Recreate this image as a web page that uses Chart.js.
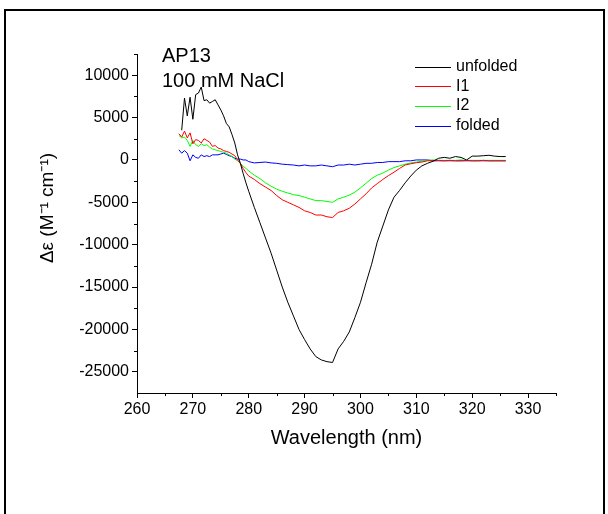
<!DOCTYPE html>
<html>
<head>
<meta charset="utf-8">
<script src="https://cdn.jsdelivr.net/npm/chart.js@4/dist/chart.umd.min.js"></script>
<style>
  html, body { margin: 0; padding: 0; background: #fff; }
  #cdChart { display: block; }
</style>
</head>
<body>
<canvas id="cdChart" width="608" height="514"></canvas>
<script>
// wavelength grid (nm), finer at the noisy start
const wavelength = [267.5, 268, 268.5, 269, 269.5, 270, 270.5, 271, 271.5, 272, 272.5, 273, 273.5, 274, 274.5,
  275, 275.5, 276, 276.5, 277, 277.5, 278, 278.5, 279, 279.5, 280,
  281, 282, 283, 284, 285, 286, 287, 288, 289, 290, 291, 292, 293, 294, 295, 296, 297, 298, 299, 300,
  301, 302, 303, 304, 305, 306, 307, 308, 309, 310, 311, 312, 313, 314, 315, 316, 317, 318, 319, 320,
  321, 322, 323, 324, 325, 326];

const unfolded = [null, 3500, 7300, 5200, 7400, 4800, 7700, 7900, 8600, 7000, 7100, 6700, 6900, 7100, 6500,
  5900, 5200, 4300, 3900, 3000, 2000, 600, -400, -1600, -2700, -3700,
  -5600, -7400, -9200, -11000, -13000, -15000, -16800, -18400, -20000, -21200, -22300, -23200, -23600, -23800, -23900, -22300, -21400, -20300, -18600, -16800,
  -14500, -12300, -9700, -7800, -5900, -4400, -3600, -2700, -1900, -1200, -700, -400, -150, 200, 300, 200, 400, 300, 0, 450,
  450, 500, 550, 450, 400, 400];

const i1 = [3100, 2700, 3400, 2600, 3200, 1900, 2400, 2300, 2000, 2500, 2300, 2100, 1600, 1700, 1400,
  1300, 1100, 1000, 900, 700, 500, 0, -400, -1000, -1500, -1900,
  -2300, -2800, -3200, -3600, -4200, -4700, -5000, -5300, -5600, -6000, -6200, -6500, -6500, -6700, -6800, -6200, -6000, -5700, -5200, -4600,
  -4000, -3300, -2800, -2300, -1850, -1450, -1000, -600, -450, -330, -250, -100, -100, -50, -100, -50, -100, -100, -50, -100,
  -100, -50, -100, -100, -100, -100];

const i2 = [2900, 2600, 2700, 2300, 1600, 2300, 1800, 1600, 1900, 1700, 1800, 1500, 1300, 1200, 1100,
  1000, 900, 800, 600, 400, 100, -100, -400, -750, -1000, -1300,
  -1800, -2200, -2700, -3100, -3450, -3700, -3900, -4100, -4200, -4400, -4600, -4800, -4800, -4900, -5000, -4600, -4400, -4150, -3800, -3300,
  -2750, -2200, -1800, -1550, -1200, -900, -700, -500, -350, -250, -150, -50, 0, -50, -50, -50, -50, 0, -50, -50,
  -50, -50, -50, -50, -50, -50];

const folded = [1200, 800, 1100, 800, -100, 600, 300, 200, 600, 400, 500, 400, 600, 600, 600,
  700, 800, 650, 500, 400, 200, 100, 100, 0, 0, -200,
  -350, -300, -250, -350, -400, -500, -550, -600, -700, -600, -700, -700, -600, -700, -800, -600, -600, -500, -600, -500,
  -400, -400, -300, -300, -200, -200, -200, -100, -100, 0, 0, 0, -100, -100, -100, -100, -100, -100, -100, -100,
  -100, -100, -100, -100, -100, -100];

const seriesNames = ['unfolded', 'I1', 'I2', 'folded'];
const seriesColors = ['#000000', '#ff0000', '#00ff00', '#0000ff'];

const xTicks = [260, 270, 280, 290, 300, 310, 320, 330];
const xMinor = [265, 275, 285, 295, 305, 315, 325, 335];
const yTicks = [-25000, -20000, -15000, -10000, -5000, 0, 5000, 10000];
const yMinor = [-22500, -17500, -12500, -7500, -2500, 2500, 7500, 12500];

const fontFamily = '"Liberation Sans", Arial, Helvetica, sans-serif';

function toPoints(values) {
  return wavelength.map((w, i) => ({ x: w, y: values[i] }));
}

// minor ticks, axis titles, legend, labels and page frame
const decorations = {
  id: 'decorations',
  beforeDraw(chart) {
    const ctx = chart.ctx;
    ctx.save();
    ctx.fillStyle = '#fff';
    ctx.fillRect(0, 0, chart.width, chart.height);
    ctx.strokeStyle = '#000';
    ctx.lineWidth = 2;
    ctx.beginPath();
    ctx.moveTo(5, 514);
    ctx.lineTo(5, 10);
    ctx.lineTo(604, 10);
    ctx.lineTo(604, 514);
    ctx.stroke();
    ctx.restore();
  },
  afterDraw(chart) {
    const ctx = chart.ctx;
    const x = chart.scales.x;
    const y = chart.scales.y;
    const area = chart.chartArea;
    ctx.save();
    ctx.strokeStyle = '#000';
    ctx.lineWidth = 1;
    ctx.beginPath();
    xMinor.forEach(v => {
      const px = Math.round(x.getPixelForValue(v)) + 0.5;
      ctx.moveTo(px, area.bottom);
      ctx.lineTo(px, area.bottom + 3);
    });
    yMinor.forEach(v => {
      const py = Math.round(y.getPixelForValue(v)) + 0.5;
      ctx.moveTo(area.left, py);
      ctx.lineTo(area.left - 3, py);
    });
    ctx.stroke();

    ctx.fillStyle = '#000';
    // x title
    ctx.font = '20px ' + fontFamily;
    ctx.textAlign = 'center';
    ctx.textBaseline = 'middle';
    ctx.fillText('Wavelength (nm)', (area.left + area.right) / 2, 438);

    // y title, rotated
    ctx.save();
    ctx.translate(48, 208);
    ctx.rotate(-Math.PI / 2);
    ctx.font = '19px ' + fontFamily;
    ctx.fillText('\u0394\u03b5 (M\u207b\u00b9 cm\u207b\u00b9)', 0, 0);
    ctx.restore();

    // sample label
    ctx.font = '20px ' + fontFamily;
    ctx.textAlign = 'left';
    ctx.textBaseline = 'alphabetic';
    ctx.fillText('AP13', 162, 62);
    ctx.fillText('100 mM NaCl', 162, 87);

    // legend
    ctx.font = '16px ' + fontFamily;
    ctx.textBaseline = 'middle';
    chart.data.datasets.forEach((ds, i) => {
      const ly = 66.5 + i * 19.7;
      ctx.strokeStyle = ds.borderColor;
      ctx.beginPath();
      ctx.moveTo(415, Math.round(ly) + 0.5);
      ctx.lineTo(451, Math.round(ly) + 0.5);
      ctx.stroke();
      ctx.fillText(ds.label, 456, ly);
    });
    ctx.restore();
  }
};

const ctx = document.getElementById('cdChart').getContext('2d');
const cdChart = new Chart(ctx, {
  type: 'line',
  data: {
    datasets: [unfolded, i1, i2, folded].map((vals, i) => ({
      label: seriesNames[i],
      data: toPoints(vals),
      borderColor: seriesColors[i],
      backgroundColor: seriesColors[i],
      borderWidth: 1,
      pointRadius: 0,
      tension: 0,
      fill: false
    }))
  },
  options: {
    responsive: false,
    devicePixelRatio: 1,
    animation: false,
    layout: { padding: { left: 0, top: 54, right: 52, bottom: 91 } },
    plugins: {
      legend: { display: false },
      tooltip: { enabled: false }
    },
    scales: {
      x: {
        type: 'linear',
        min: 260,
        max: 335,
        afterBuildTicks: axis => { axis.ticks = xTicks.map(v => ({ value: v })); },
        afterFit: scale => { scale.height = 30; },
        grid: { drawOnChartArea: false, drawTicks: true, tickLength: 5, color: '#000' },
        border: { display: true, color: '#000', width: 1 },
        ticks: { color: '#000', font: { family: fontFamily, size: 16 }, padding: 2, maxRotation: 0 }
      },
      y: {
        type: 'linear',
        min: -27500,
        max: 12500,
        afterBuildTicks: axis => { axis.ticks = yTicks.map(v => ({ value: v })); },
        afterFit: scale => { scale.width = 137; },
        grid: { drawOnChartArea: false, drawTicks: true, tickLength: 5, color: '#000' },
        border: { display: true, color: '#000', width: 1 },
        ticks: { color: '#000', font: { family: fontFamily, size: 16 }, padding: 3, callback: v => String(v) }
      }
    }
  },
  plugins: [decorations]
});
</script>
</body>
</html>
